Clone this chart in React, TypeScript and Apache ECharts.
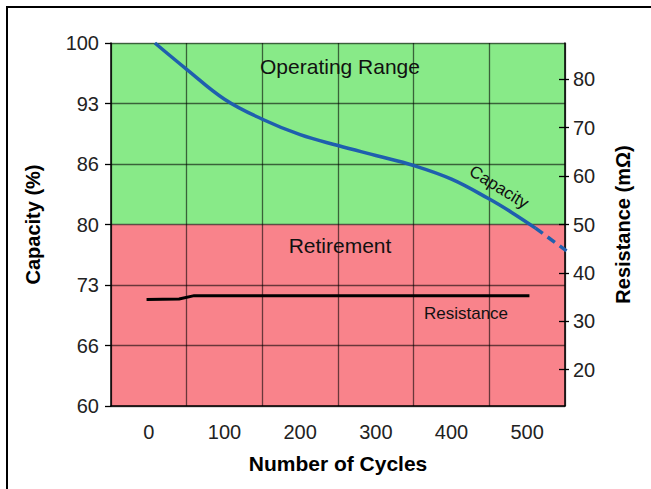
import React, { useEffect, useRef } from "react";
import * as echarts from "echarts";

const cycleTicks = [0, 100, 200, 300, 400, 500];
const capacityCycles = [8, 50, 100, 150, 200, 250, 300, 350, 400, 450, 480, 511];
const capacityValues = [100, 97.1, 93.8, 91.6, 89.9, 88.7, 87.6, 86.5, 85.0, 82.8, 81.3, 79.6];
const projectedCycles = [511, 552];
const projectedValues = [79.6, 77.1];
const resistanceCycles = [-3, 40, 60, 503];
const resistanceValues = [34.5, 34.6, 35.3, 35.3];
const resistanceTicks = [20, 30, 40, 50, 60, 70, 80];

const FONT = "'Liberation Sans', Arial, sans-serif";
const GREEN = "#88EA88";
const RED = "#F9838B";
const GRID = "rgba(0,0,0,0.58)";

export default function App() {
  const ref = useRef<HTMLDivElement>(null);
  useEffect(() => {
    if (!ref.current) return;
    const chart = echarts.init(ref.current, null, { renderer: "svg" });
    const zip = (xs: number[], ys: number[]) => xs.map((x, i) => [x, ys[i]]);
    chart.setOption({
      animation: false,
      backgroundColor: "#ffffff",
      grid: { left: 111, top: 43, right: 86, bottom: 83, containLabel: false },
      xAxis: [
        {
          type: "value", min: -50, max: 550, interval: 100, position: "bottom", z: 3,
          axisLine: { show: true, onZero: false, lineStyle: { color: "#000", width: 1.5 } },
          axisTick: { show: false }, axisLabel: { show: false },
          splitLine: { show: true, lineStyle: { color: GRID, width: 1.3 } },
          name: "Number of Cycles", nameLocation: "middle", nameGap: 47,
          nameTextStyle: { fontFamily: FONT, fontSize: 21, fontWeight: "bold", color: "#000" },
        },
        {
          type: "value", min: -50, max: 550, interval: 50, position: "bottom", z: 3,
          axisLine: { show: false, onZero: false }, axisTick: { show: false }, splitLine: { show: false },
          axisLabel: {
            show: true, margin: 16, fontFamily: FONT, fontSize: 20, color: "#222",
            formatter: (v: number) => (cycleTicks.indexOf(Math.round(v)) >= 0 ? String(Math.round(v)) : ""),
          },
        },
      ],
      yAxis: [
        {
          type: "value", min: 60, max: 100, interval: 20 / 3, position: "left", z: 3,
          axisLine: { show: true, onZero: false, lineStyle: { color: "#000", width: 1.5 } },
          axisTick: { show: true, length: 6, lineStyle: { color: "#000", width: 1.3 } },
          splitLine: { show: true, lineStyle: { color: GRID, width: 1.3 } },
          axisLabel: {
            margin: 12, fontFamily: FONT, fontSize: 20, color: "#222",
            formatter: (v: number) => String(Math.floor(v + 1e-6)),
          },
          name: "Capacity (%)", nameLocation: "middle", nameGap: 68,
          nameTextStyle: { fontFamily: FONT, fontSize: 20, fontWeight: "bold", color: "#000" },
        },
        {
          type: "value", min: 12.5, max: 87.5, position: "right", z: 3,
          axisLine: { show: true, onZero: false, lineStyle: { color: "#000", width: 1.5 } },
          axisTick: { show: true, inside: false, length: 4, customValues: resistanceTicks, lineStyle: { color: "#000", width: 1.3 } },
          splitLine: { show: false },
          axisLabel: { margin: 8, fontFamily: FONT, fontSize: 20, color: "#222", customValues: resistanceTicks },
          name: "Resistance (mΩ)", nameLocation: "middle", nameGap: 48,
          nameTextStyle: { fontFamily: FONT, fontSize: 20, fontWeight: "bold", color: "#000" },
        },
        {
          type: "value", min: 12.5, max: 87.5, position: "right", z: 3,
          axisLine: { show: false, onZero: false },
          axisTick: { show: true, inside: true, length: 6, customValues: resistanceTicks, lineStyle: { color: "#000", width: 1.3 } },
          splitLine: { show: false },
          axisLabel: { show: false },
        },
      ],
      graphic: [
        { type: "rect", z: 0, shape: { x: 7, y: 7, width: 700, height: 600 }, style: { fill: "none", stroke: "#000", lineWidth: 2 } },
        { type: "text", z: 10, x: 340, y: 66, style: { text: "Operating Range", font: `21px ${FONT}`, fill: "#111", align: "center", verticalAlign: "middle" } },
        { type: "text", z: 10, x: 340, y: 245, style: { text: "Retirement", font: `21px ${FONT}`, fill: "#111", align: "center", verticalAlign: "middle" } },
        { type: "text", z: 10, x: 466, y: 313, style: { text: "Resistance", font: `17px ${FONT}`, fill: "#111", align: "center", verticalAlign: "middle" } },
        { type: "text", z: 10, x: 499, y: 187, rotation: (-32 * Math.PI) / 180, style: { text: "Capacity", font: `17px ${FONT}`, fill: "#111", align: "center", verticalAlign: "middle" } },
      ],
      series: [
        {
          type: "line", z: 1, xAxisIndex: 0, yAxisIndex: 0, data: [[0, 80]], symbol: "none",
          lineStyle: { opacity: 0 }, silent: true,
          markArea: {
            silent: true, z: 1,
            data: [
              [{ yAxis: 80, itemStyle: { color: GREEN } }, { yAxis: 100 }],
              [{ yAxis: 60, itemStyle: { color: RED } }, { yAxis: 80 }],
            ],
          },
        },
        {
          type: "line", z: 5, xAxisIndex: 0, yAxisIndex: 0, data: zip(capacityCycles, capacityValues),
          smooth: 0.4, symbol: "none", lineStyle: { color: "#1F5FAE", width: 3.5 },
        },
        {
          type: "line", z: 5, xAxisIndex: 0, yAxisIndex: 0, data: zip(projectedCycles, projectedValues),
          symbol: "none", lineStyle: { color: "#1F5FAE", width: 3.5, type: [9, 6] },
        },
        {
          type: "line", z: 5, xAxisIndex: 0, yAxisIndex: 1, data: zip(resistanceCycles, resistanceValues),
          symbol: "none", lineStyle: { color: "#000", width: 3 },
        },
      ],
    });
    return () => chart.dispose();
  }, []);
  return <div ref={ref} style={{ position: "fixed", left: 0, top: 0, width: 651, height: 489 }} />;
}
